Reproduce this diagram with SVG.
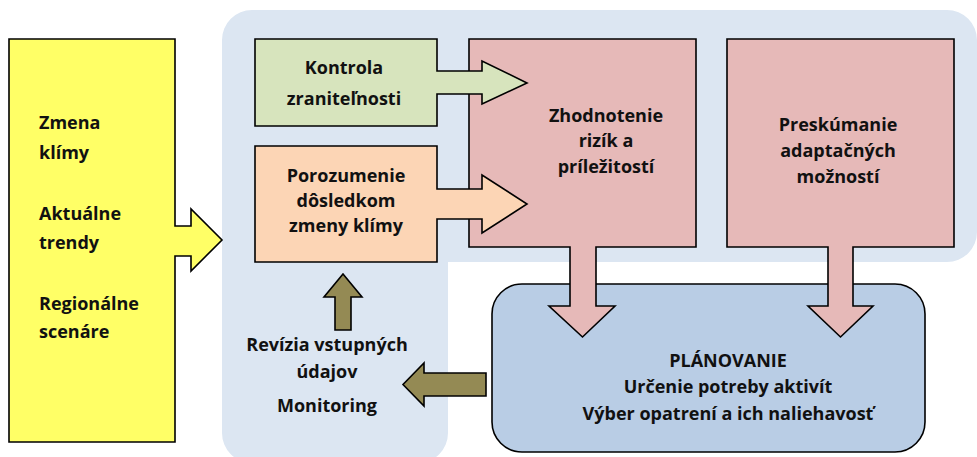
<svg xmlns="http://www.w3.org/2000/svg" width="977" height="457" viewBox="0 0 977 457">
  <style>
    .shape { stroke: #000; stroke-width: 1.6; stroke-linejoin: miter; }
    .lbl { font-family: "Open Sans", Lato, "Liberation Sans", sans-serif; font-weight: bold; font-size: 18px; fill: #111; }
    .mid { text-anchor: middle; }
  </style>

  <!-- light blue backdrop behind the assessment steps -->
  <path id="backdrop" fill="#DCE6F2" d="M252,10 H947 A30,30 0 0 1 977,40 V232 A30,30 0 0 1 947,262 H448 V433 A30,30 0 0 1 418,463 H252 A30,30 0 0 1 222,433 V40 A30,30 0 0 1 252,10 Z"/>

  <!-- inputs -->
  <g id="inputs">
    <path class="shape" fill="#FFFF66" d="M9,39 H175 V226 H191 V209 L222,240 L191,271 V256 H175 V442 H9 Z"/>
    <text class="lbl" x="39" y="129">Zmena</text>
    <text class="lbl" x="39" y="159">klímy</text>
    <text class="lbl" x="39" y="220">Aktuálne</text>
    <text class="lbl" x="39" y="249">trendy</text>
    <text class="lbl" x="39" y="310">Regionálne</text>
    <text class="lbl" x="39" y="338">scenáre</text>
  </g>

  <!-- planning -->
  <g id="planning">
    <rect class="shape" fill="#B9CDE5" x="492" y="284" width="433" height="168" rx="30" ry="30"/>
    <text class="lbl mid" x="728" y="367">PLÁNOVANIE</text>
    <text class="lbl mid" x="728" y="393">Určenie potreby aktivít</text>
    <text class="lbl mid" x="728" y="420">Výber opatrení a ich naliehavosť</text>
  </g>

  <!-- risk assessment -->
  <g id="risks">
    <path class="shape" fill="#E6B9B8" d="M469,39 H696 V247 H596 V306 H615 L582.5,337 L549,306 H570 V247 H469 Z"/>
    <text class="lbl mid" x="606" y="122">Zhodnotenie</text>
    <text class="lbl mid" x="606" y="147">rizík a</text>
    <text class="lbl mid" x="606" y="173">príležitostí</text>
  </g>

  <!-- adaptation options -->
  <g id="options">
    <path class="shape" fill="#E6B9B8" d="M727,39 H954 V247 H853 V306 H873 L840.5,337 L808,306 H828 V247 H727 Z"/>
    <text class="lbl mid" x="838" y="131">Preskúmanie</text>
    <text class="lbl mid" x="838" y="157">adaptačných</text>
    <text class="lbl mid" x="838" y="183">možností</text>
  </g>

  <!-- vulnerability check -->
  <g id="vulnerability">
    <path class="shape" fill="#D7E4BD" d="M255,39 H437 V71 H482 V61 L527,83 L482,104 V94 H437 V126 H255 Z"/>
    <text class="lbl mid" x="344" y="74">Kontrola</text>
    <text class="lbl mid" x="344" y="105">zraniteľnosti</text>
  </g>

  <!-- impacts -->
  <g id="impacts">
    <path class="shape" fill="#FCD5B5" d="M255,146 H437 V189 H482 V175 L527,204 L482,233 V219 H437 V262 H255 Z"/>
    <text class="lbl mid" x="346" y="182">Porozumenie</text>
    <text class="lbl mid" x="346" y="207">dôsledkom</text>
    <text class="lbl mid" x="346" y="232">zmeny klímy</text>
  </g>

  <!-- review / monitoring -->
  <g id="review">
    <text class="lbl mid" x="327" y="351">Revízia vstupných</text>
    <text class="lbl mid" x="327" y="378">údajov</text>
    <text class="lbl mid" x="327" y="412">Monitoring</text>
  </g>

  <!-- feedback arrows -->
  <g id="connectors">
    <path class="shape" fill="#948A54" d="M335,330 V297 H324 L343,274 L362,297 H351 V330 Z"/>
    <path class="shape" fill="#948A54" d="M486,373 H424 V363 L403,384.5 L424,406 V396 H486 Z"/>
  </g>
</svg>
